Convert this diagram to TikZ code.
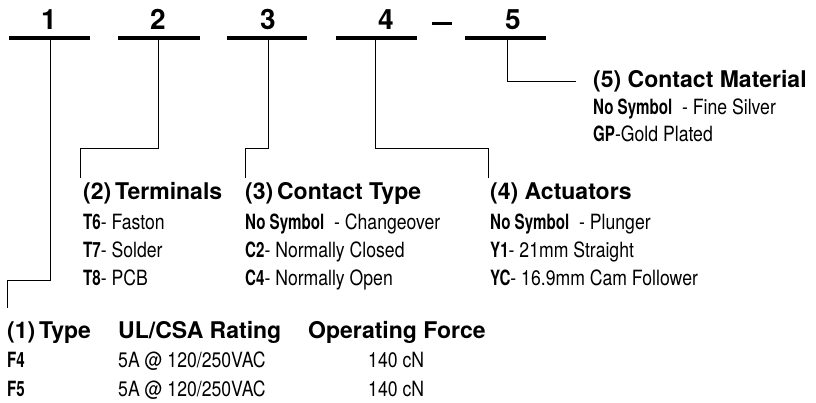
\documentclass[tikz,border=0pt]{standalone}
\usepackage{fontspec}
\setmainfont{TeX Gyre Heros}
\newfontfamily\cond[FakeStretch=0.84,BoldFeatures={FakeStretch=0.72}]{TeX Gyre Heros}
\begin{document}
\begin{tikzpicture}[x=1pt,y=-1pt,
  digit/.style={font=\bfseries\fontsize{28}{28}\selectfont, inner sep=0pt, anchor=base},
  title/.style={font=\bfseries\fontsize{23}{23}\selectfont, inner sep=0pt, anchor=base west},
  item/.style={font=\cond\fontsize{21}{21}\selectfont, inner sep=0pt, anchor=base west},
  blank/.style={line width=3.5pt},
  conn/.style={line width=0.8pt}]
\useasboundingbox (0,0) rectangle (816,403);
% code positions
\node[digit] (d1) at (49,30) {1};
\node[digit] (d2) at (158,30) {2};
\node[digit] (d3) at (268,30) {3};
\node[digit] (d4) at (386,30) {4};
\node[digit] (d5) at (513,30) {5};
\coordinate (l1a) at (9,38);   \coordinate (l1b) at (90,38);
\coordinate (l2a) at (118,38); \coordinate (l2b) at (200,38);
\coordinate (l3a) at (227,38); \coordinate (l3b) at (307,38);
\coordinate (l4a) at (336,38); \coordinate (l4b) at (417,38);
\coordinate (l5a) at (465,38); \coordinate (l5b) at (546,38);
\coordinate (da) at (432,23.5);  \coordinate (db) at (452,23.5);
\draw[blank] (l1a) -- (l1b);
\draw[blank] (l2a) -- (l2b);
\draw[blank] (l3a) -- (l3b);
\draw[blank] (l4a) -- (l4b);
\draw[blank] (l5a) -- (l5b);
\draw[blank] (da) -- (db);
% connectors
\coordinate (c1) at (50,38);  \coordinate (e1) at (7,308);
\coordinate (c2) at (158,38); \coordinate (e2) at (80,178);
\coordinate (c3) at (268,38); \coordinate (e3) at (245,178);
\coordinate (c4) at (375,38); \coordinate (e4) at (488,178);
\coordinate (c5) at (507,38); \coordinate (e5) at (576,81);
\draw[conn] (c1) -- (50,280) -| (e1);
\draw[conn] (c2) -- (158,148) -| (e2);
\draw[conn] (c3) -- (268,148) -| (e3);
\draw[conn] (c4) -- (375,148) -| (e4);
\draw[conn] (c5) |- (e5);
% (5)
\node[title] (t5) at (593,88) {(5) Contact Material};
\node[item] (r51) at (593,115) {\bfseries No Symbol\mdseries\ \ - Fine Silver};
\node[item] (r52) at (593,142) {\bfseries GP\mdseries -Gold Plated};
% (2)
\node[title] (t2) at (83,200) {(2)\,Terminals};
\node[item] (r21) at (83,230) {\bfseries T6\mdseries - Faston};
\node[item] (r22) at (83,258) {\bfseries T7\mdseries - Solder};
\node[item] (r23) at (83,286) {\bfseries T8\mdseries - PCB};
% (3)
\node[title] (t3) at (245,200) {(3)\,Contact Type};
\node[item] (r31) at (245,230) {\bfseries No Symbol\mdseries\ \ - Changeover};
\node[item] (r32) at (245,258) {\bfseries C2\mdseries - Normally Closed};
\node[item] (r33) at (245,286) {\bfseries C4\mdseries - Normally Open};
% (4)
\node[title] (t4) at (490,200) {(4) Actuators};
\node[item] (r41) at (490,230) {\bfseries No Symbol\mdseries\ \ - Plunger};
\node[item] (r42) at (490,258) {\bfseries Y1\mdseries - 21mm Straight};
\node[item] (r43) at (490,286) {\bfseries YC\mdseries - 16.9mm Cam Follower};
% (1)
\node[title] (t1) at (7,338) {(1)\,Type};
\node[title] (h2) at (118,338) {UL/CSA Rating};
\node[title] (h3) at (308,338) {Operating Force};
\node[item] (f4) at (7,367) {\bfseries F4};
\node[item] (f5) at (7,396) {\bfseries F5};
\node[item] (v1) at (118,367) {5A @ 120/250VAC};
\node[item] (v2) at (118,396) {5A @ 120/250VAC};
\node[item] (w1) at (368,367) {140 cN};
\node[item] (w2) at (368,396) {140 cN};
\end{tikzpicture}
\end{document}
